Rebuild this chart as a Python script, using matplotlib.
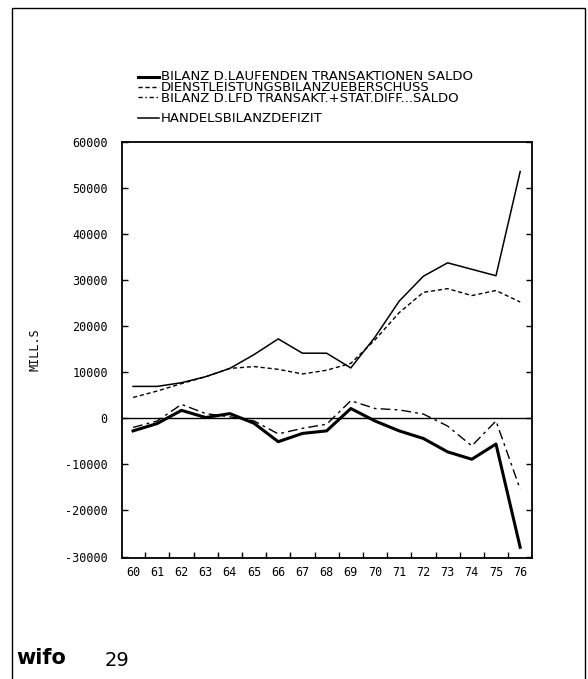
import numpy as np
import matplotlib
matplotlib.use("Agg")
import matplotlib.pyplot as plt
from matplotlib.lines import Line2D
from matplotlib.patches import Rectangle

# Jahre 1960-1976
jahre = list(range(60, 77))

# Werte in Mill. S
laufende_saldo = [-2750, -1150, 1700, 150, 1000, -1100, -5100, -3300, -2750, 2100,
                  -600, -2750, -4400, -7300, -8900, -5600, -28000]
dienstleistung = [4500, 5900, 7500, 9000, 10800, 11200, 10600, 9600, 10400, 11900,
                  17000, 22900, 27300, 28100, 26600, 27700, 25200]
lfd_stat_diff = [-2000, -600, 3000, 1000, 300, -600, -3400, -2200, -1300, 3800,
                 2100, 1800, 900, -1700, -6000, -600, -15400]
handelsdefizit = [6900, 6900, 7700, 9000, 10800, 13800, 17200, 14100, 14100, 10900,
                  17600, 25400, 30800, 33700, 32300, 30900, 53500]

legende = ["BILANZ D.LAUFENDEN TRANSAKTIONEN SALDO",
           "DIENSTLEISTUNGSBILANZUEBERSCHUSS",
           "BILANZ D.LFD TRANSAKT.+STAT.DIFF...SALDO",
           "HANDELSBILANZDEFIZIT"]

yticks = [-30000, -20000, -10000, 0, 10000, 20000, 30000, 40000, 50000, 60000]

mono = "DejaVu Sans Mono"

fig = plt.figure(figsize=(5.88, 6.79), dpi=100)
ax = fig.add_axes([0.207, 0.178, 0.697, 0.6135])

x = np.array(jahre)
ax.plot(x, laufende_saldo, color="black", lw=2.2, solid_joinstyle="round")
ax.plot(x, dienstleistung, color="black", lw=1.0, ls=(0, (3, 2)))
ax.plot(x, lfd_stat_diff, color="black", lw=1.0, ls=(0, (7, 3, 2, 3)))
ax.plot(x, handelsdefizit, color="black", lw=1.1)
ax.axhline(0, color="black", lw=1.0)

ax.set_xlim(59.53, 76.47)
ax.set_ylim(-30350, 60000)

ax.set_xticks(x)
ax.set_xticklabels([str(j) for j in jahre], family=mono, fontsize=8.5)
ax.set_xticks(x[:-1] + 0.5, minor=True)
ax.tick_params(axis="x", which="major", length=0, pad=6)
ax.tick_params(axis="x", which="minor", direction="in", length=4, width=1)

ax.set_yticks(yticks)
ax.set_yticklabels([str(v) for v in yticks], family=mono, fontsize=8.5)
ax.tick_params(axis="y", direction="in", length=4, width=1, right=True, pad=10)

ax.set_ylabel("MILL.S", family=mono, fontsize=8.5, labelpad=17)

for s in ax.spines.values():
    s.set_linewidth(1.3)

# Legende oberhalb
H = 679.0
W = 588.0
zeilen_y = [77, 87, 97, 118]
stile = [dict(lw=2.2, ls="-"), dict(lw=1.0, ls=(0, (3, 2))),
         dict(lw=1.0, ls=(0, (3, 2, 1, 2))), dict(lw=1.1, ls="-")]
for yy, st in zip(zeilen_y, stile):
    fy = 1 - yy / H
    fig.add_artist(Line2D([138 / W, 159 / W], [fy, fy], color="black", **st))

fs_leg = 9.5
zeilenabstand = 10.0 / (fs_leg * 100 / 72)
fig.text(161 / W, 1 - 87.5 / H, "\n".join(legende[:3]), family="DejaVu Sans",
         fontsize=fs_leg, va="center", ha="left", linespacing=zeilenabstand)
fig.text(161 / W, 1 - 118 / H, legende[3], family="DejaVu Sans",
         fontsize=fs_leg, va="center", ha="left")

# Rahmen
fig.add_artist(Rectangle((12 / W, -0.1), (585 - 12) / W, 1.1 - 8 / H,
                         fill=False, ec="black", lw=1.0, transform=fig.transFigure))

# Fusszeile
fig.text(16 / W, 1 - 658 / H, "wifo", fontsize=15, fontweight="bold",
         family="DejaVu Sans", va="center", ha="left")
fig.text(105 / W, 1 - 660 / H, "29", fontsize=14, family="DejaVu Sans",
         va="center", ha="left")

fig.savefig("out.png", dpi=100)
